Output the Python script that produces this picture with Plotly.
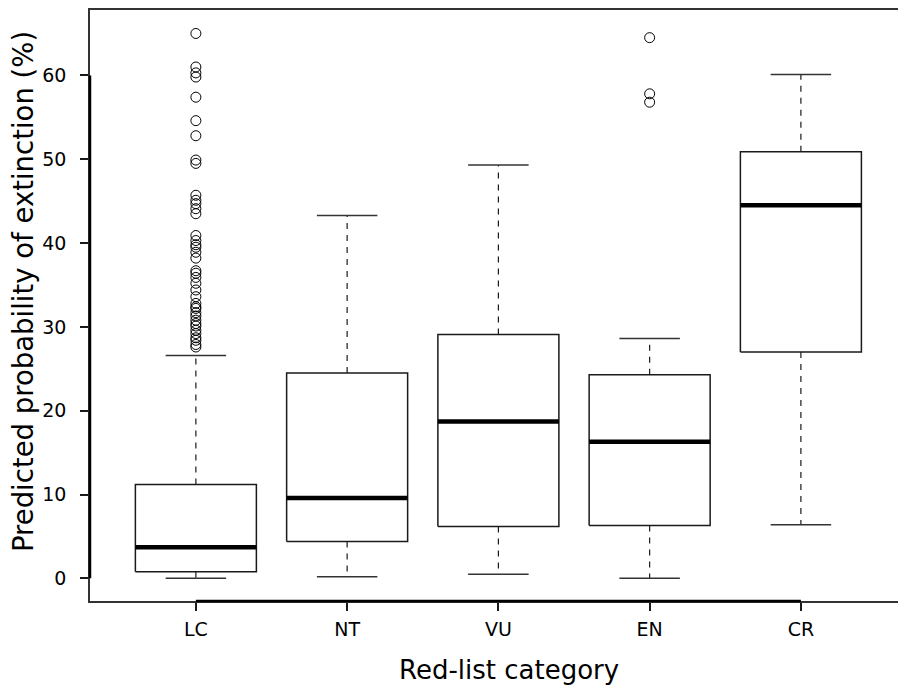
import plotly.graph_objects as go

categories = ["LC", "NT", "VU", "EN", "CR"]
positions = [1, 2, 3, 4, 5]
lower_whisker = [0.0, 0.2, 0.5, 0.0, 6.4]
q1 = [0.8, 4.4, 6.2, 6.3, 27.0]
median = [3.7, 9.6, 18.7, 16.3, 44.5]
q3 = [11.2, 24.5, 29.1, 24.3, 50.9]
upper_whisker = [26.6, 43.3, 49.3, 28.6, 60.1]

lc_outliers = [65.0, 61.0, 60.3, 59.8, 57.4, 54.6, 52.8, 49.9, 49.5, 45.7, 45.1,
               44.7, 44.1, 43.5, 40.9, 40.3, 39.8, 39.5, 38.9, 38.2, 36.7, 36.4,
               35.9, 35.2, 34.4, 33.6, 32.8, 32.4, 32.2, 31.7, 31.3, 30.8, 30.4,
               30.1, 29.6, 29.2, 28.7, 28.4, 27.9, 27.6]
en_outliers = [64.5, 57.8, 56.8]
outliers = {"LC": lc_outliers, "EN": en_outliers}

y_ticks = [0, 10, 20, 30, 40, 50, 60]

half = 0.4
cap = 0.2
ink = "#1a1a1a"

bx, by, mx, my, wx, wy, cx, cy = [], [], [], [], [], [], [], []
for p, lo, a, m, b, hi in zip(positions, lower_whisker, q1, median, q3, upper_whisker):
    bx += [p - half, p + half, p + half, p - half, p - half, None]
    by += [a, a, b, b, a, None]
    mx += [p - half, p + half, None]
    my += [m, m, None]
    wx += [p, p, None, p, p, None]
    wy += [b, hi, None, a, lo, None]
    cx += [p - cap, p + cap, None, p - cap, p + cap, None]
    cy += [hi, hi, None, lo, lo, None]

ox, oy = [], []
for cat, vals in outliers.items():
    p = positions[categories.index(cat)]
    ox += [p] * len(vals)
    oy += vals

fig = go.Figure()
fig.add_trace(go.Scatter(x=wx, y=wy, mode="lines",
                         line=dict(color=ink, width=1.2, dash="6px,6px")))
fig.add_trace(go.Scatter(x=cx, y=cy, mode="lines",
                         line=dict(color="#333333", width=1.5)))
fig.add_trace(go.Scatter(x=bx, y=by, mode="lines", fill="toself",
                         fillcolor="white", line=dict(color=ink, width=1.5)))
fig.add_trace(go.Scatter(x=mx, y=my, mode="lines",
                         line=dict(color="black", width=4.5)))
fig.add_trace(go.Scatter(x=ox, y=oy, mode="markers",
                         marker=dict(symbol="circle-open", size=10,
                                     color="black", line=dict(width=1))))

font_family = "DejaVu Sans"
fig.update_layout(
    width=898, height=686,
    margin=dict(l=90, r=0, t=10, b=85),
    paper_bgcolor="white", plot_bgcolor="white",
    showlegend=False,
    font=dict(family=font_family, color="black"),
    xaxis=dict(range=[0.3, 5.642], tickvals=positions, ticktext=categories,
               ticks="outside", ticklen=8, tickwidth=1.5, tickcolor=ink,
               showline=True, mirror=True, linecolor="#333333", linewidth=1.5,
               showgrid=False, zeroline=False, ticklabelstandoff=2,
               tickfont=dict(size=19, family=font_family)),
    yaxis=dict(range=[-2.7, 67.8], tickvals=y_ticks,
               ticks="outside", ticklen=8, tickwidth=1.5, tickcolor=ink,
               showline=True, mirror=False, linecolor="#333333", linewidth=1.5,
               showgrid=False, zeroline=False, ticklabelstandoff=10,
               tickfont=dict(size=19, family=font_family)),
    shapes=[
        dict(type="line", xref="x", yref="paper", x0=positions[0], x1=positions[-1],
             y0=0, y1=0, line=dict(color="black", width=2.5)),
        dict(type="line", xref="paper", yref="y", x0=0, x1=0,
             y0=y_ticks[0], y1=y_ticks[-1], line=dict(color="black", width=2.5)),
    ],
    annotations=[
        dict(text="Red-list category", xref="paper", yref="paper",
             x=0.518, y=-0.1168, xanchor="center", yanchor="middle",
             showarrow=False, font=dict(size=26, family=font_family)),
        dict(text="Predicted probability of extinction (%)", xref="paper", yref="paper",
             x=-0.082, y=0.524, xanchor="center", yanchor="middle", textangle=-90,
             showarrow=False, font=dict(size=27.5, family=font_family)),
    ],
)

fig.write_html("out.html",
               config={"displayModeBar": False},
               post_script="document.body.style.margin='0';"
                           "document.body.style.overflow='hidden';")
